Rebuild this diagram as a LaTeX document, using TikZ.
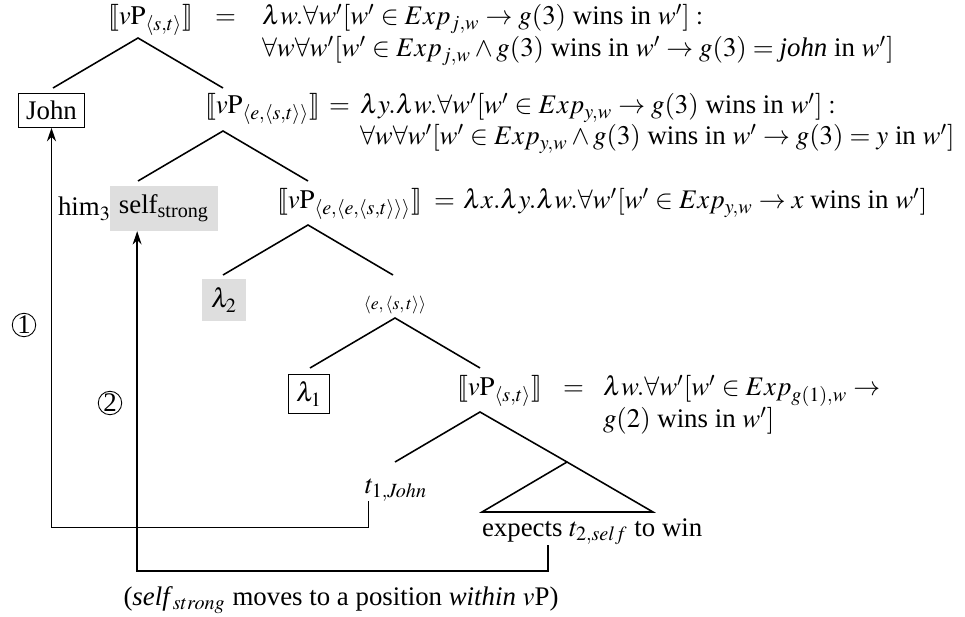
\documentclass[tikz,border=0pt]{standalone}
\IfFileExists{mathptmx.sty}{\usepackage{mathptmx}}{}
\IfFileExists{stmaryrd.sty}{\usepackage{stmaryrd}}{%
  \newcommand{\llbracket}{\mathopen{[\mkern-3.5mu[}}%
  \newcommand{\rrbracket}{\mathclose{]\mkern-3.5mu]}}}
\usepackage{fontspec}
\setmainfont{Liberation Serif}
\usetikzlibrary{arrows.meta}

\begin{document}
\begin{tikzpicture}[x=0.447pt,y=-0.447pt,font=\fontsize{12}{14}\selectfont,
  every node/.style={inner sep=0pt,outer sep=0pt},
  lbl/.style={anchor=base west},
  boxed/.style={draw,line width=0.5pt,inner sep=3.5pt},
  shaded/.style={fill=black!13,inner sep=4pt},
  branch/.style={line width=0.7pt},
  move/.style={line width=0.7pt,-{Stealth[length=6pt,width=4pt]}},
  num/.style={circle,draw,line width=0.4pt,minimum size=10.5pt}]
  \useasboundingbox (0,0) rectangle (965,617);

  \node[lbl] (vp1) at (108,25) {$\llbracket v\mathrm{P}_{\langle s,t\rangle}\rrbracket$};
  \node[lbl] (eq1) at (215,25) {$=$};
  \node[lbl] (f1a) at (262,25) {$\lambda w.\forall w'[w'\in Exp_{j,w}\rightarrow g(3)$ wins in $w']:$};
  \node[lbl] (f1b) at (262,57) {$\forall w\forall w'[w'\in Exp_{j,w}\wedge g(3)$ wins in $w'\rightarrow g(3)=\textit{john}$ in $w']$};

  \node[lbl] (vp2) at (205,114) {$\llbracket v\mathrm{P}_{\langle e,\langle s,t\rangle\rangle}\rrbracket$};
  \node[lbl] (eq2) at (329,114) {$=$};
  \node[lbl] (f2a) at (360,114) {$\lambda y.\lambda w.\forall w'[w'\in Exp_{y,w}\rightarrow g(3)$ wins in $w']:$};
  \node[lbl] (f2b) at (360,145) {$\forall w\forall w'[w'\in Exp_{y,w}\wedge g(3)$ wins in $w'\rightarrow g(3)=y$ in $w']$};

  \node[lbl] (vp3) at (277,209) {$\llbracket v\mathrm{P}_{\langle e,\langle e,\langle s,t\rangle\rangle\rangle}\rrbracket$};
  \node[lbl] (eq3) at (434,209) {$=$};
  \node[lbl] (f3) at (463,209) {$\lambda x.\lambda y.\lambda w.\forall w'[w'\in Exp_{y,w}\rightarrow x$ wins in $w']$};

  \node[lbl] (vp4) at (457,396) {$\llbracket v\mathrm{P}_{\langle s,t\rangle}\rrbracket$};
  \node[lbl] (eq4) at (563,396) {$=$};
  \node[lbl] (f4a) at (603,396) {$\lambda w.\forall w'[w'\in Exp_{g(1),w}\rightarrow$};
  \node[lbl] (f4b) at (603,428) {$g(2)$ wins in $w']$};

  \node[boxed] (john) at (51.5,110.5) {John};
  \node[lbl] (him) at (58,216) {him$_3$};
  \node[shaded] (self) at (164,208.5) {self\textsubscript{strong}};
  \node[shaded] (lam2) at (224,300) {$\lambda_2$};
  \node[font=\footnotesize] (type) at (395,305) {$\langle e,\langle s,t\rangle\rangle$};
  \node[boxed] (lam1) at (309,394) {$\lambda_1$};
  \node[lbl] (t1) at (365,493) {$t_{1,\mathit{John}}$};
  \node[lbl] (exp) at (482,536) {expects $t_{2,self}$ to win};
  \node (note) at (341,600) {(\textit{self}$_{strong}$ moves to a position \textit{within} $v$P)};
  \node[num] (one) at (24,325) {1};
  \node[num] (two) at (110,403) {2};

  \foreach \p/\x/\y in {n1/138/38,n2/223/131,n3/308/225,n4/395/318,n5/480/412}
    \coordinate (\p) at (\x,\y);
  \foreach \p in {n1,n2,n3,n4}
    \draw[branch] ([shift={(-85,50)}]\p) -- (\p) -- ([shift={(85,50)}]\p);
  \coordinate (tri) at ([shift={(87,50)}]n5);
  \draw[branch] ([shift={(-85,50)}]n5) -- (n5) -- (tri);
  \draw[branch] (tri) -- ([shift={(-85,50)}]tri) -- ([shift={(86,50)}]tri) -- cycle;

  \coordinate (t2foot) at (548,545);
  \draw[move] ([xshift=1.5pt]t1.south west) -- ++(0,26) -| (john.south);
  \draw[move] (t2foot) -- ++(0,26) -| ([xshift=-12pt]self.south);
\end{tikzpicture}
\end{document}
